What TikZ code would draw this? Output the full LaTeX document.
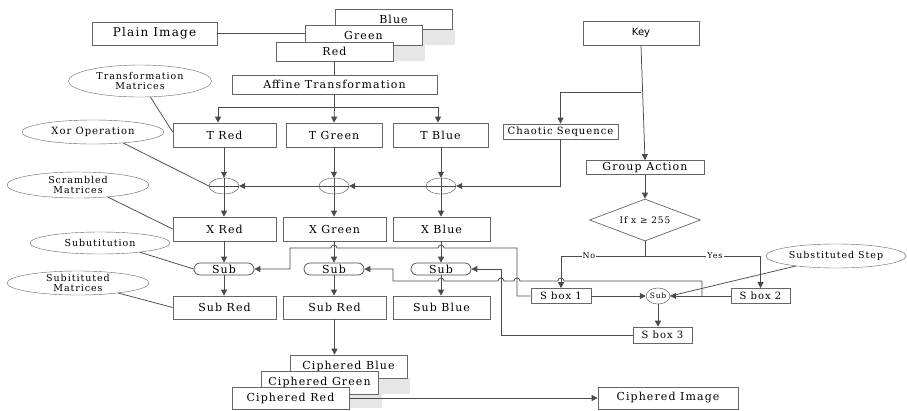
\documentclass[tikz,border=0pt]{standalone}
\usepackage{fontspec}
\setmainfont[LetterSpace=10]{DejaVu Serif}
\newfontfamily\keyfont{DejaVu Sans}
\usetikzlibrary{arrows.meta,shapes.geometric,calc}
\definecolor{boxc}{HTML}{666666}
\definecolor{linec}{HTML}{4A4A4A}
\definecolor{shadc}{HTML}{E6E6E6}
\tikzset{
  box/.style 2 args={draw=boxc, fill=white, rectangle, inner sep=1pt, text=black, line width=0.7pt,
    minimum width=#1pt, minimum height=#2pt, font=\fontsize{11}{12}\selectfont},
  lbl/.style 2 args={draw=boxc, fill=white, ellipse, inner xsep=0pt, inner ysep=-4pt, text=black,
    align=center, minimum width=#1pt, minimum height=#2pt, font=\fontsize{9.5}{10}\selectfont},
  pill/.style={draw=linec, fill=white, rectangle, rounded corners=6pt, inner sep=0pt, line width=0.7pt,
    minimum width=60pt, minimum height=12pt, font=\fontsize{11}{11}\selectfont},
  xorc/.style={draw=linec, fill=white, ellipse, inner sep=0pt, minimum width=30pt, minimum height=16pt},
  ln/.style={draw=linec, line width=0.75pt},
  arr/.style={ln, -{Triangle[length=6pt,width=6pt]}},
  yn/.style={fill=white, inner sep=1pt, font=\fontsize{8}{8}\selectfont}
}
\begin{document}
\begin{tikzpicture}[x=1pt,y=-1pt]
\useasboundingbox (0,0) rectangle (907,410);
\fill[white] (0,0) rectangle (907,410);

% ---- stacked colour planes
\fill[shadc] (422,29) rectangle (455,45);
\fill[shadc] (393,45) rectangle (425,61);
\node[box={117}{20}] (blue) at (393.5,19) {Blue};
\node[box={117}{20}] (green) at (363.5,35) {Green};
\node[box={117}{19}] (red) at (334.5,51.5) {Red};
\node[box={125}{23}, font=\fontsize{12}{13}\selectfont] (plain) at (154.5,33.5) {Plain Image};
\draw[ln] (plain.east) -- (plain.east -| green.west);

\node[box={205}{19}] (affine) at (334.5,84.5) {Affine Transformation};
\draw[ln] (red.south) -- (affine.north);

\node[box={103}{24}] (tred) at (224.5,135) {T Red};
\node[box={96}{24}] (tgreen) at (334,135) {T Green};
\node[box={95}{24}] (tblue) at (440.5,135) {T Blue};
\coordinate (asplit) at (334.5,107);
\coordinate (al) at (218,107);
\coordinate (ar) at (438,107);
\draw[ln] (affine.south) -- (asplit);
\draw[ln] (al) -- (ar);
\draw[arr] (al) -- (al |- tred.north);
\draw[arr] (asplit) -- (tgreen.north);
\draw[arr] (ar) -- (ar |- tblue.north);

% ---- XOR
\node[xorc] (xr) at (224,186) {};
\node[xorc] (xg) at (334,186) {};
\node[xorc] (xb) at (441,186) {};
\foreach \n in {xr,xg,xb}{\draw[ln] (\n.north) -- (\n.south); \draw[ln] (\n.west) -- (\n.east);}
\draw[arr] (tred.south -| xr.north) -- (xr.north);
\draw[arr] (tgreen.south -| xg.north) -- (xg.north);
\draw[arr] (tblue.south -| xb.north) -- (xb.north);

\node[box={103}{24}] (xred) at (224.5,229) {X Red};
\node[box={103}{24}] (xgreen) at (334.5,229) {X Green};
\node[box={97}{24}] (xblue) at (441.5,229) {X Blue};
\draw[arr] (xr.south) -- (xr.south |- xred.north);
\draw[arr] (xg.south) -- (xg.south |- xgreen.north);
\draw[arr] (xb.south) -- (xb.south |- xblue.north);
\draw[arr] (xb.west) -- (xg.east);
\draw[arr] (xg.west) -- (xr.east);

% ---- Key side
\node[box={116}{24}, font=\keyfont\fontsize{10}{11}\selectfont] (key) at (641,33) {Key};
\node[box={115}{15}, font=\fontsize{10}{11}\selectfont] (chaotic) at (560.5,131.5) {Chaotic Sequence};
\node[box={118}{14}] (group) at (645,167.5) {Group Action};
\coordinate (kb) at (641,92);
\draw[arr] (kb) -| (chaotic.north);
\draw[arr] (key.south) -- (group.north);
\draw[arr] (chaotic.south) |- (xb.east);
\node[draw=boxc, fill=white, diamond, aspect=2.64, inner sep=0pt, minimum width=111pt, minimum height=42pt,
  line width=0.7pt, font=\fontsize{9}{10}\selectfont] (dia) at (645,220) {If x ≥ 255};
\draw[arr] (group.south) -- (dia.north);

% ---- S boxes
\node[box={60}{15}, font=\fontsize{10}{11}\selectfont] (sbox1) at (561,296) {S box 1};
\node[box={59}{15}, font=\fontsize{10}{11}\selectfont] (sbox2) at (760.5,296) {S box 2};
\node[box={59}{16}, font=\fontsize{10}{11}\selectfont] (sbox3) at (662.5,335) {S box 3};
\node[draw=linec, fill=white, ellipse, inner sep=0pt, minimum width=24pt, minimum height=16pt,
  font=\fontsize{7.5}{8}\selectfont] (subs) at (658,296) {Sub};
\coordinate (dsplit) at (645,256);
\coordinate (nol) at (561,256);
\coordinate (yesr) at (760.5,256);
\draw[ln] (dia.south) -- (dsplit);
\draw[ln] (nol) -- (yesr);
\draw[arr] (nol) -- (sbox1.north);
\draw[arr] (yesr) -- (sbox2.north);
\node[yn] (no) at (589,256) {No};
\node[yn] (yes) at (715,256) {Yes};
\draw[arr] (sbox1.east) -- (subs.west);
\draw[arr] (sbox2.west) -- (subs.east);
\draw[arr] (subs.south) -- (subs.south |- sbox3.north);
\node[lbl={140}{24}] (step) at (836,256) {Substituted Step};
\draw[ln] (step.194) -- (subs.east);

% ---- Sub stage
\node[pill] (subr) at (224,269) {Sub};
\node[pill] (subg) at (334,269) {Sub};
\node[pill] (subb) at (441,269) {Sub};
\draw[arr] (xred.south -| subr.north) -- (subr.north);
\draw[arr] (xgreen.south -| subg.north) -- (subg.north);
\draw[arr] (xblue.south -| subb.north) -- (subb.north);
\node[box={103}{23}] (sred) at (224.5,307.5) {Sub Red};
\node[box={103}{23}] (sgreen) at (334.5,307.5) {Sub Red};
\node[box={97}{23}] (sblue) at (441.5,307.5) {Sub Blue};
\draw[arr] (subr.south) -- (subr.south |- sred.north);
\draw[arr] (subg.south) -- (subg.south |- sgreen.north);
\draw[arr] (subb.south) -- (subb.south |- sblue.north);

% S box 1 -> red Sub
\draw[arr] (sbox1.west) -- (517,296) -- (517,248) -- (444,248) arc[start angle=0,end angle=180,radius=3pt]
  -- (337,248) arc[start angle=0,end angle=180,radius=3pt] -- (290,248) -- (290,269) -- (subr.east);
% S box 2 -> green Sub
\coordinate (jb) at (702,296);
\draw[arr] (jb) -- (702,281) -- (564,281) arc[start angle=0,end angle=180,radius=3pt]
  -- (520,281) arc[start angle=0,end angle=180,radius=3pt]
  -- (504,281) arc[start angle=0,end angle=180,radius=3pt]
  -- (444,281) arc[start angle=0,end angle=180,radius=3pt] -- (393,281) -- (393,269) -- (subg.east);
% S box 3 -> blue Sub
\draw[arr] (sbox3.west) -- (501,335) -- (501,269) -- (subb.east);

% ---- Ciphered
\fill[shadc] (378,378) rectangle (410,394);
\fill[shadc] (349,394) rectangle (382,408);
\node[box={117}{23}] (cblue) at (348.5,366.5) {Ciphered Blue};
\node[box={117}{23}] (cgreen) at (319.5,382.5) {Ciphered Green};
\node[box={117}{22}] (cred) at (290.5,398) {Ciphered Red};
\node[box={140}{22}] (cimg) at (668,398) {Ciphered Image};
\draw[arr] (sgreen.south) -- (sgreen.south |- cblue.north);
\draw[arr] (cred.east) -- (cimg.west);

% ---- annotation ellipses
\node[lbl={143}{32}] (trans) at (140,81) {Transformation\\Matrices};
\node[lbl={142}{24}, font=\fontsize{10}{11}\selectfont] (xorop) at (93,132) {Xor Operation};
\node[lbl={142}{26}] (scr) at (78,185) {Scrambled\\Matrices};
\node[lbl={140}{22}] (subst) at (100,243) {Subutitution};
\node[lbl={142}{24}] (subm) at (78,283) {Subitituted\\Matrices};
\draw[ln] (trans.-57) -- ([yshift=3pt]tred.west);
\draw[ln] (xorop.-20) -- (xr.west);
\draw[ln] (scr.-22) -- (xred.west);
\draw[ln] (subst.-13) -- (subr.west);
\draw[ln] (subm.-14) -- (sred.west);
\end{tikzpicture}
\end{document}
